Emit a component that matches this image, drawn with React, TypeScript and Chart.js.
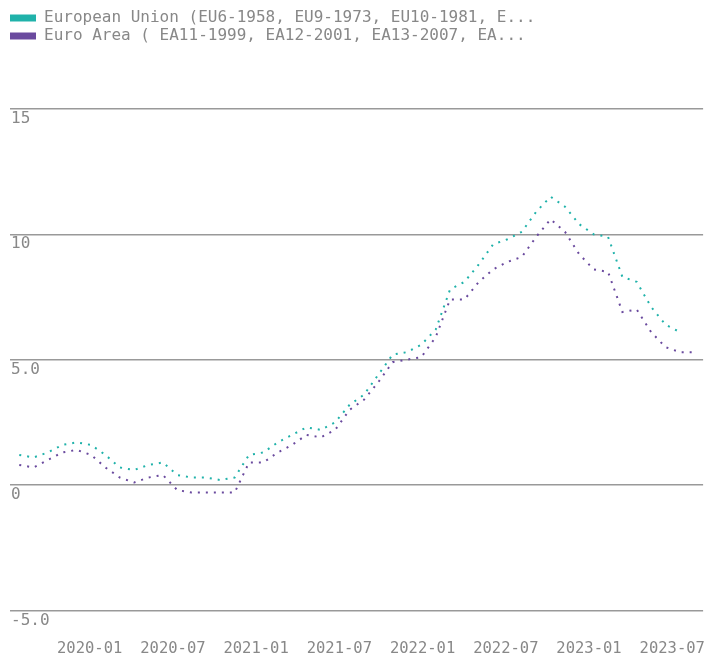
import React, { useEffect, useRef } from "react";
import { Chart, registerables } from "chart.js";

Chart.register(...registerables);

// Monthly observations (annual rate of change, %)
const months = [
  "2019-09", "2019-10", "2019-11", "2019-12",
  "2020-01", "2020-02", "2020-03", "2020-04", "2020-05", "2020-06",
  "2020-07", "2020-08", "2020-09", "2020-10", "2020-11", "2020-12",
  "2021-01", "2021-02", "2021-03", "2021-04", "2021-05", "2021-06",
  "2021-07", "2021-08", "2021-09", "2021-10", "2021-11", "2021-12",
  "2022-01", "2022-02", "2022-03", "2022-04", "2022-05", "2022-06",
  "2022-07", "2022-08", "2022-09", "2022-10", "2022-11", "2022-12",
  "2023-01", "2023-02", "2023-03", "2023-04", "2023-05", "2023-06",
  "2023-07", "2023-08",
];

const euValues = [
  1.2, 1.1, 1.3, 1.6,
  1.7, 1.6, 1.2, 0.7, 0.6, 0.8, 0.9, 0.4, 0.3, 0.3, 0.2, 0.3,
  1.2, 1.3, 1.7, 2.0, 2.3, 2.2, 2.5, 3.2, 3.6, 4.4, 5.2, 5.3,
  5.6, 6.2, 7.8, 8.1, 8.8, 9.6, 9.8, 10.1, 10.9, 11.5, 11.1, 10.4,
  10.0, 9.9, 8.3, 8.1, 7.1, 6.4, 6.1,
];

const eaValues = [
  0.8, 0.7, 1.0, 1.3,
  1.4, 1.2, 0.7, 0.3, 0.1, 0.3, 0.4, -0.2, -0.3, -0.3, -0.3, -0.3,
  0.9, 0.9, 1.3, 1.6, 2.0, 1.9, 2.2, 3.0, 3.4, 4.1, 4.9, 5.0,
  5.1, 5.9, 7.4, 7.4, 8.1, 8.6, 8.9, 9.1, 9.9, 10.6, 10.1, 9.2,
  8.6, 8.5, 6.9, 7.0, 6.1, 5.5, 5.3, 5.3,
];

const seriesNames = [
  "European Union (EU6-1958, EU9-1973, EU10-1981, E...",
  "Euro Area ( EA11-1999, EA12-2001, EA13-2007, EA...",
];

// x tick labels, one every six months starting at 2020-01
const xTickLabels = [
  "2020-01", "2020-07", "2021-01", "2021-07",
  "2022-01", "2022-07", "2023-01", "2023-07",
];

const yTickValues = [-5, 0, 5, 10, 15];
const yTickLabels = ["-5.0", "0", "5.0", "10", "15"];

const TEAL = "#20b2aa";
const PURPLE = "#6a4a9e";
const FONT = "'DejaVu Sans Mono', 'Liberation Mono', monospace";
const TEXT = "#888888";

export default function App() {
  const ref = useRef<HTMLCanvasElement | null>(null);

  useEffect(() => {
    document.documentElement.style.overflow = "hidden";
    document.body.style.marginRight = "0px";
    document.body.style.marginBottom = "0px";
  }, []);

  useEffect(() => {
    if (!ref.current) return;
    const toPoints = (vals: number[]) => vals.map((v, i) => ({ x: i, y: v }));
    const chart = new Chart(ref.current, {
      type: "line",
      data: {
        datasets: [
          {
            label: seriesNames[0],
            data: toPoints(euValues),
            borderColor: TEAL,
            backgroundColor: TEAL,
            borderWidth: 2,
            borderDash: [2, 6],
            pointRadius: 0,
            tension: 0,
            xAxisID: "x",
            yAxisID: "y",
          },
          {
            label: seriesNames[1],
            data: toPoints(eaValues),
            borderColor: PURPLE,
            backgroundColor: PURPLE,
            borderWidth: 2,
            borderDash: [2, 6],
            pointRadius: 0,
            tension: 0,
            xAxisID: "x",
            yAxisID: "y",
          },
        ],
      },
      options: {
        responsive: false,
        animation: false,
        layout: { padding: 0 },
        plugins: {
          tooltip: { enabled: false },
          legend: {
            position: "top",
            align: "start",
            labels: {
              boxWidth: 26,
              boxHeight: 7,
              padding: 2,
              color: TEXT,
              font: { family: FONT, size: 16 },
              generateLabels: (c: any) =>
                Chart.defaults.plugins.legend.labels
                  .generateLabels(c)
                  .map((l: any) => ({ ...l, lineWidth: 0, lineDash: [] })),
            },
          },
        },
        scales: {
          x: {
            type: "linear",
            display: false,
            min: -0.645,
            max: 47.62,
          },
          xl: {
            type: "linear",
            position: "bottom",
            min: -5.743,
            max: 44.224,
            grid: { display: false, drawTicks: true, tickLength: 29 },
            border: { display: false },
            afterBuildTicks: (scale: any) => {
              scale.ticks = xTickLabels.map((_, j) => ({ value: j * 6 }));
            },
            ticks: {
              autoSkip: false,
              maxRotation: 0,
              padding: 0,
              color: TEXT,
              font: { family: FONT, size: 15.5 },
              callback: (v: any) => xTickLabels[Math.round(Number(v) / 6)] ?? "",
            },
          },
          y: {
            type: "linear",
            position: "left",
            min: -5,
            max: 17.19,
            grid: { color: "#999999", lineWidth: 1.5, drawTicks: false },
            border: { display: false },
            afterBuildTicks: (scale: any) => {
              scale.ticks = yTickValues.map((v) => ({ value: v }));
            },
            ticks: {
              mirror: true,
              padding: 1,
              labelOffset: 10,
              autoSkip: false,
              color: TEXT,
              font: { family: FONT, size: 16 },
              callback: (v: any) => {
                const idx = yTickValues.indexOf(Number(v));
                return idx >= 0 ? yTickLabels[idx] : "";
              },
            },
          },
        },
      },
    } as any);
    return () => chart.destroy();
  }, []);

  return (
    <div style={{ width: 697, height: 650 }}>
      <canvas ref={ref} width={697} height={650} style={{ display: "block" }} />
    </div>
  );
}
